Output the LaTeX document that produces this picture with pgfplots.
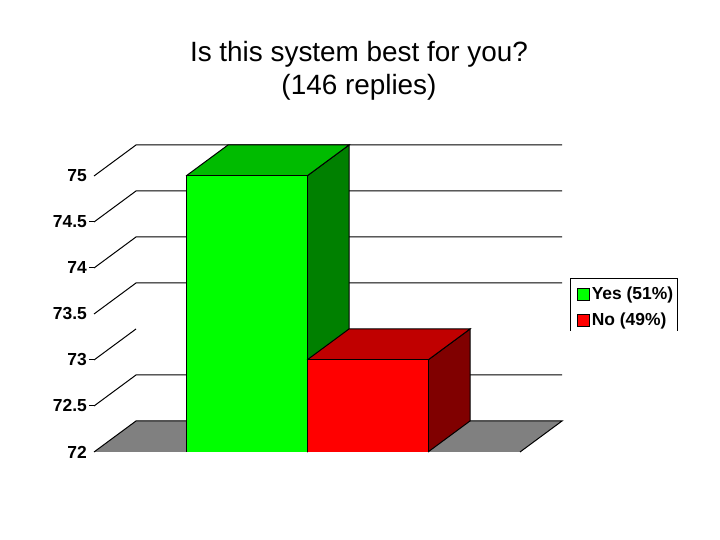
\documentclass[border=0pt]{standalone}
\usepackage{pgfplots}
\pgfplotsset{compat=1.18}
\usepackage{fontspec}
\setmainfont{Liberation Sans}
\definecolor{gfront}{HTML}{00FF00}
\definecolor{gtop}{HTML}{00BB00}
\definecolor{gside}{HTML}{008000}
\definecolor{rfront}{HTML}{FF0000}
\definecolor{rtop}{HTML}{C00000}
\definecolor{rside}{HTML}{800000}
\definecolor{floorc}{HTML}{808080}
\begin{document}
\begin{tikzpicture}[x=1bp,y=1bp]
\path[use as bounding box] (0,0) rectangle (720,540);
\begin{axis}[
  at={(94bp,88bp)},anchor=south west,
  scale only axis,width=468bp,height=307bp,
  xmin=94,xmax=562,ymin=72,ymax=75.337,
  clip=false,
  axis line style={draw=none},
  xtick=\empty,
  ytick={72,72.5,73,73.5,74,74.5,75},
  major tick length=0pt,
  /pgf/number format/assume math mode=true,
  /pgf/number format/fixed,
  yticklabel style={font=\fontsize{17.5}{20}\selectfont\bfseries,inner sep=0pt,xshift=-7bp},
  every axis plot/.append style={line width=1bp},
  legend style={at={(1.032,0.544)},anchor=north west,draw=none,fill=none,
    font=\fontsize{17.5}{20}\selectfont\bfseries,row sep=8bp,inner sep=0pt},
  legend cell align=left,
]
% floor
\addplot[draw=none,fill=floorc,forget plot] coordinates {(94,72) (136,72.337) (562,72.337) (520,72) (94,72)};
\addplot[black,forget plot] coordinates {(94,72) (136,72.337) (562,72.337) (520,72)};
% wall lines and back grid lines
\addplot[black,forget plot] coordinates {(94,72.5) (136,72.837) (562,72.837)};
\addplot[black,forget plot] coordinates {(94,73) (136,73.337)};
\addplot[black,forget plot] coordinates {(94,73.5) (136,73.837) (562,73.837)};
\addplot[black,forget plot] coordinates {(94,74) (136,74.337) (562,74.337)};
\addplot[black,forget plot] coordinates {(94,74.5) (136,74.837) (562,74.837)};
\addplot[black,forget plot] coordinates {(94,75) (136,75.337) (562,75.337)};
% tick marks
\addplot[black,forget plot] coordinates {(89,72.5) (94,72.5)};
\addplot[black,forget plot] coordinates {(89,73) (94,73)};
\addplot[black,forget plot] coordinates {(89,74) (94,74)};
\addplot[black,forget plot] coordinates {(89,74.5) (94,74.5)};
% Yes bar = 75
\addplot[black,fill=gside,forget plot] coordinates {(307,72) (349,72.337) (349,75.337) (307,75) (307,72)};
\addplot[black,fill=gtop,forget plot] coordinates {(186,75) (228,75.337) (349,75.337) (307,75) (186,75)};
\addplot[black,fill=gfront,forget plot] coordinates {(186,72) (186,75) (307,75) (307,72)};
% No bar = 73
\addplot[black,fill=rside,forget plot] coordinates {(428,72) (470,72.337) (470,73.337) (428,73) (428,72)};
\addplot[black,fill=rtop,forget plot] coordinates {(307,73) (349,73.337) (470,73.337) (428,73) (307,73)};
\addplot[black,fill=rfront,forget plot] coordinates {(307,72) (307,73) (428,73) (428,72)};
% legend keys
\addlegendimage{legend image code/.code={\draw[black,line width=0.6bp,fill=gfront] (0bp,-6bp) rectangle (12bp,6bp);}}
\addlegendentry{Yes (51\%)}
\addlegendimage{legend image code/.code={\draw[black,line width=0.6bp,fill=rfront] (0bp,-6bp) rectangle (12bp,6bp);}}
\addlegendentry{No (49\%)}
\end{axis}
\draw[black,line width=1bp] (570.5,209) -- (570.5,261) -- (677.5,261) -- (677.5,209);
\node[align=center,font=\fontsize{28}{33}\selectfont] at (359,469) {Is this system best for you?\\(146 replies)};
\end{tikzpicture}
\end{document}
